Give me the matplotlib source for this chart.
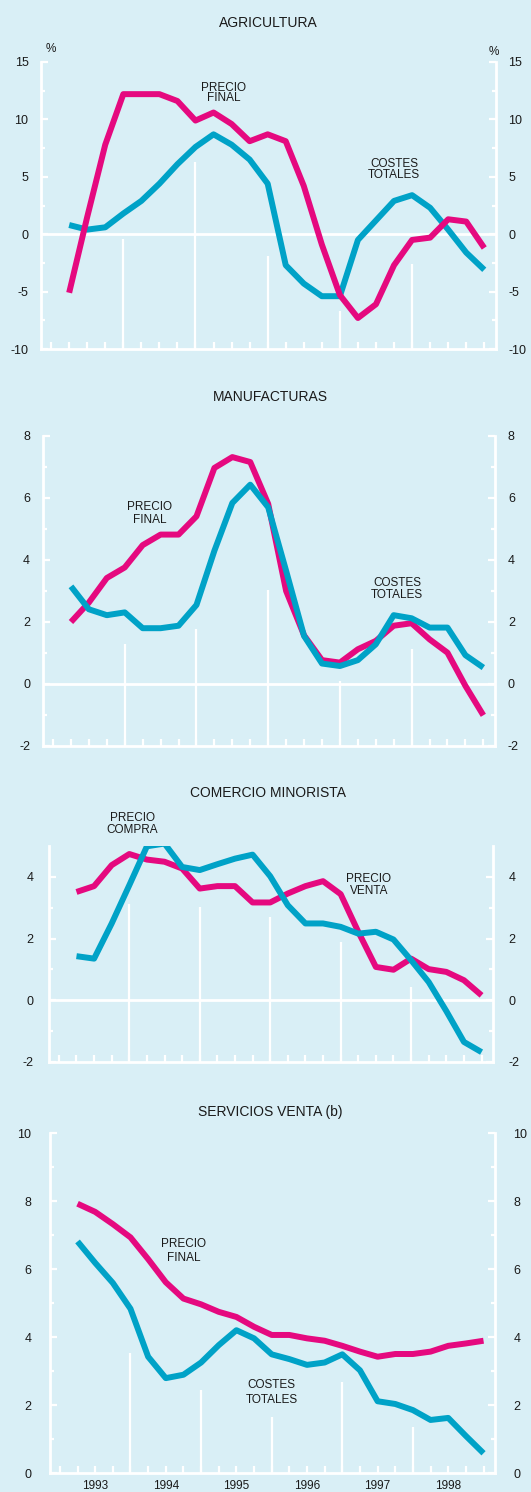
import matplotlib
matplotlib.use("Agg")
import matplotlib.pyplot as plt
import numpy as np

plt.rcParams["font.family"] = ["Liberation Sans", "DejaVu Sans"]
plt.rcParams["axes.unicode_minus"] = False

BG = "#d9eff6"
MAGENTA = "#e5097f"
CYAN = "#00a2c7"
TEXT = "#1a1a1a"

# quarterly observations, 1993 to 1998
quarters = np.arange(1, 25)
tick_quarters = np.arange(0, 25)
year_bounds = [4, 8, 12, 16, 20]
year_centers = [2, 6, 10, 14, 18, 22]
year_labels = ["1993", "1994", "1995", "1996", "1997", "1998"]

agri_precio = [-5.1, 1.5, 7.8, 12.2, 12.2, 12.2, 11.6, 9.9, 10.6, 9.6, 8.1, 8.7,
               8.1, 4.2, -0.9, -5.3, -7.3, -6.1, -2.7, -0.5, -0.3, 1.3, 1.1, -1.2]
agri_costes = [0.8, 0.4, 0.6, 1.8, 2.9, 4.4, 6.1, 7.6, 8.7, 7.8, 6.5, 4.4,
               -2.7, -4.3, -5.4, -5.4, -0.5, 1.2, 2.9, 3.4, 2.3, 0.4, -1.6, -3.1]

manu_precio = [2.0, 2.63, 3.42, 3.76, 4.48, 4.82, 4.82, 5.41, 6.97, 7.32, 7.16, 5.81,
               3.0, 1.57, 0.77, 0.69, 1.12, 1.39, 1.88, 1.96, 1.44, 1.01, -0.06, -1.01]
manu_costes = [3.15, 2.41, 2.22, 2.31, 1.80, 1.80, 1.88, 2.55, 4.30, 5.84, 6.43, 5.70,
               3.65, 1.55, 0.66, 0.58, 0.77, 1.28, 2.22, 2.12, 1.82, 1.82, 0.93, 0.53]

com_venta = [3.51, 3.70, 4.38, 4.74, 4.56, 4.49, 4.27, 3.62, 3.70, 3.70, 3.17, 3.17,
             3.46, 3.70, 3.86, 3.44, 2.22, 1.08, 0.99, 1.35, 1.01, 0.92, 0.65, 0.16]
com_compra = [1.43, 1.35, 2.49, 3.73, 4.99, 5.08, 4.32, 4.22, 4.41, 4.59, 4.72, 4.02,
              3.08, 2.49, 2.49, 2.38, 2.16, 2.22, 1.97, 1.30, 0.59, -0.35, -1.35, -1.68]

serv_precio = [7.92, 7.68, 7.32, 6.93, 6.29, 5.61, 5.13, 4.96, 4.74, 4.59, 4.30, 4.06,
               4.06, 3.96, 3.89, 3.74, 3.57, 3.42, 3.50, 3.50, 3.57, 3.74, 3.81, 3.89]
serv_costes = [6.81, 6.18, 5.59, 4.83, 3.42, 2.79, 2.89, 3.25, 3.76, 4.20, 3.96, 3.49,
               3.35, 3.18, 3.25, 3.49, 3.02, 2.11, 2.03, 1.85, 1.56, 1.62, 1.09, 0.58]

# heights reached by the white year separators in each panel
agri_bound_tops = [-0.4, 6.25, -1.9, -6.7, -2.6]
manu_bound_tops = [1.3, 1.77, 3.04, 0.1, 1.14]
com_bound_tops = [3.11, 3.03, 2.7, 1.89, 0.43]
serv_bound_tops = [3.52, 2.45, 1.65, 2.68, 1.36]

W, H = 531, 1492


def draw_panel(fig, px_box, title, title_px, ylim, majors, minors, first, second,
               first_on_top, bound_tops, notes, pad_px, show_years=False):
    left, right, top, bottom = px_box
    ax = fig.add_axes([left / W, 1 - bottom / H, (right - left) / W, (bottom - top) / H])
    ax.set_facecolor(BG)
    ax.set_xlim(-0.56, 24.65)
    ax.set_ylim(*ylim)

    for side in ["left", "right", "bottom"]:
        ax.spines[side].set_color("white")
        ax.spines[side].set_linewidth(2)
    ax.spines["top"].set_visible(False)

    if ylim[0] < 0:
        ax.axhline(0, color="white", lw=2, zorder=1)
    ax.vlines(year_bounds, ylim[0], bound_tops, color="white", lw=1.6, zorder=1)

    z1, z2 = (4, 3) if first_on_top else (3, 4)
    ax.plot(quarters, first, color=MAGENTA, lw=4.3, solid_capstyle="butt",
            solid_joinstyle="round", zorder=z1)
    ax.plot(quarters, second, color=CYAN, lw=4.3, solid_capstyle="butt",
            solid_joinstyle="round", zorder=z2)

    ax.set_yticks(majors)
    ax.set_yticks(minors, minor=True)
    ax.tick_params(axis="y", which="major", direction="in", length=5, width=1.6,
                   color="white", labelsize=9, labelcolor=TEXT, pad=pad_px * 0.72,
                   left=True, right=True, labelleft=True, labelright=True)
    ax.tick_params(axis="y", which="minor", direction="in", length=3, width=1.6,
                   color="white", left=True, right=True)

    ax.xaxis.remove_overlapping_locs = False
    ax.set_xticks(tick_quarters)
    ax.tick_params(axis="x", which="major", direction="in", length=5, width=1.6,
                   color="white", labelbottom=False)
    if show_years:
        ax.set_xticks(year_centers, minor=True)
        ax.set_xticklabels(year_labels, minor=True)
        ax.tick_params(axis="x", which="minor", length=0, labelsize=8.5,
                       labelcolor=TEXT, pad=5)
    else:
        ax.tick_params(axis="x", which="minor", length=0, labelbottom=False)

    for text, x, y, spacing in notes:
        ax.text(x, y, text, ha="center", va="center", fontsize=8.5, color=TEXT,
                linespacing=spacing, clip_on=False, zorder=5)

    fig.text(title_px[0] / W, 1 - title_px[1] / H, title, ha="center", va="center",
             fontsize=10, color=TEXT)
    return ax


def main() -> None:
    fig = plt.figure(figsize=(W / 100, H / 100), dpi=100, facecolor=BG)

    draw_panel(fig, (41, 496, 62, 349), "AGRICULTURA", (268, 23), (-10, 15),
               [-10, -5, 0, 5, 10, 15], [-7.5, -2.5, 2.5, 7.5, 12.5],
               agri_precio, agri_costes, True, agri_bound_tops,
               [("PRECIO\nFINAL", 9.55, 12.3, 0.85),
                ("COSTES\nTOTALES", 19.0, 5.65, 0.95)], 12.5)
    fig.text(46 / W, 1 - 49 / H, "%", ha="left", va="center", fontsize=8.5, color=TEXT)
    fig.text(489 / W, 1 - 52 / H, "%", ha="left", va="center", fontsize=8.5, color=TEXT)

    draw_panel(fig, (43, 495, 436, 746), "MANUFACTURAS", (270, 397), (-2, 8),
               [-2, 0, 2, 4, 6, 8], [-1, 1, 3, 5, 7],
               manu_precio, manu_costes, False, manu_bound_tops,
               [("PRECIO\nFINAL", 5.4, 5.49, 1.1),
                ("COSTES\nTOTALES", 19.2, 3.07, 0.95)], 13)

    draw_panel(fig, (49, 493, 846, 1062), "COMERCIO MINORISTA", (268, 793), (-2, 5),
               [-2, 0, 2, 4], [-1, 1, 3],
               com_venta, com_compra, False, com_bound_tops,
               [("PRECIO\nCOMPRA", 4.16, 5.71, 1.0),
                ("PRECIO\nVENTA", 17.6, 3.73, 0.95)], 15.5)

    draw_panel(fig, (50, 495, 1133, 1473), "SERVICIOS VENTA (b)", (270, 1112), (0, 10),
               [0, 2, 4, 6, 8, 10], [1, 3, 5, 7, 9],
               serv_precio, serv_costes, True, serv_bound_tops,
               [("PRECIO\nFINAL", 7.0, 6.53, 1.15),
                ("COSTES\nTOTALES", 11.98, 2.37, 1.4)], 18.5, show_years=True)

    fig.savefig("out.png", dpi=100, facecolor=BG)
    plt.close(fig)


if __name__ == "__main__":
    main()
